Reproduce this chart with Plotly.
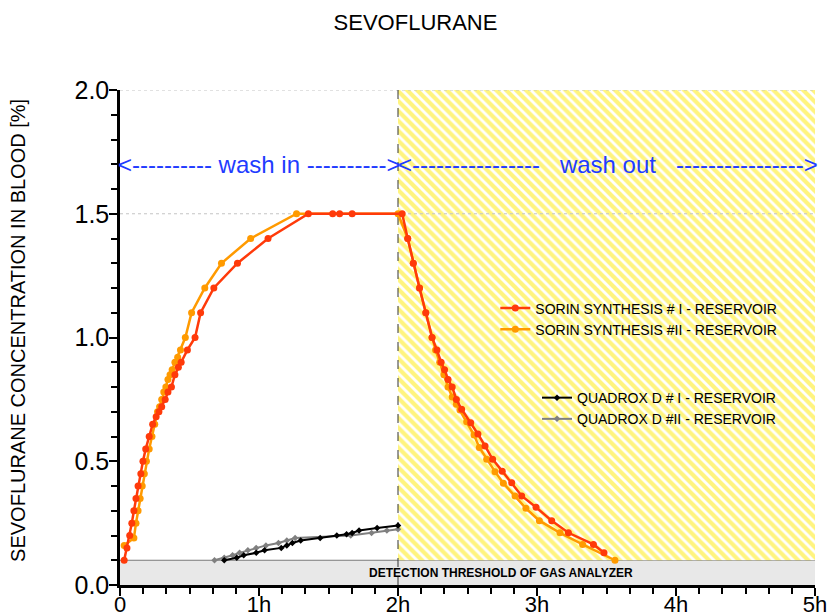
import plotly.graph_objects as go

# ---- measured blood concentration (time in hours, sevoflurane in %) ----
sorin1_t = [0.03, 0.05, 0.07, 0.085, 0.10, 0.115, 0.13, 0.15, 0.165, 0.185,
            0.21, 0.235, 0.26, 0.28, 0.30, 0.325, 0.345, 0.37, 0.395, 0.42,
            0.44, 0.485, 0.54, 0.58, 0.675, 0.845, 1.065, 1.355, 1.53, 1.58,
            1.67,
            2.03, 2.07, 2.11, 2.155, 2.2, 2.245, 2.28, 2.31, 2.335, 2.36,
            2.39, 2.42, 2.458, 2.523, 2.575, 2.626, 2.681, 2.75, 2.818, 2.89,
            2.993, 3.106, 3.226, 3.406, 3.482]
sorin1_c = [0.10, 0.15, 0.20, 0.25, 0.30, 0.35, 0.40, 0.45, 0.50, 0.55,
            0.60, 0.65, 0.68, 0.70, 0.72, 0.75, 0.78, 0.80, 0.85, 0.88,
            0.90, 0.95, 1.00, 1.10, 1.20, 1.30, 1.40, 1.50, 1.50, 1.50,
            1.50,
            1.50, 1.40, 1.30, 1.20, 1.10, 1.00, 0.95, 0.90, 0.87, 0.83,
            0.80, 0.75, 0.71, 0.656, 0.61, 0.562, 0.508, 0.46, 0.413, 0.36,
            0.314, 0.26, 0.211, 0.164, 0.13]

sorin2_t = [0.03, 0.10, 0.115, 0.13, 0.145, 0.16, 0.175, 0.19, 0.21, 0.23,
            0.25, 0.27, 0.285, 0.30, 0.315, 0.33, 0.345, 0.36, 0.375, 0.395,
            0.415, 0.435, 0.47, 0.515, 0.61, 0.73, 0.94, 1.27,
            2.0, 2.07, 2.11, 2.155, 2.2, 2.245, 2.27, 2.30, 2.33, 2.36,
            2.39, 2.42, 2.446, 2.494, 2.547, 2.585, 2.638, 2.698, 2.758, 2.842,
            2.92, 3.017, 3.165, 3.328, 3.561]
sorin2_c = [0.16, 0.19, 0.25, 0.30, 0.35, 0.40, 0.45, 0.50, 0.55, 0.60,
            0.65, 0.70, 0.72, 0.75, 0.78, 0.80, 0.83, 0.85, 0.87, 0.90,
            0.92, 0.95, 1.00, 1.10, 1.20, 1.30, 1.40, 1.50,
            1.50, 1.40, 1.30, 1.20, 1.10, 1.00, 0.95, 0.90, 0.85, 0.80,
            0.76, 0.73, 0.707, 0.66, 0.606, 0.556, 0.508, 0.458, 0.411, 0.36,
            0.31, 0.26, 0.211, 0.164, 0.10]

quadrox1_t = [0.75, 0.84, 0.89, 0.98, 1.04, 1.16, 1.20, 1.24, 1.30, 1.44,
              1.56, 1.63, 1.67, 1.72, 1.85, 2.0]
quadrox1_c = [0.10, 0.11, 0.12, 0.13, 0.14, 0.15, 0.16, 0.17, 0.18, 0.19,
              0.20, 0.205, 0.21, 0.22, 0.23, 0.24]

quadrox2_t = [0.68, 0.75, 0.81, 0.86, 0.92, 0.98, 1.05, 1.14, 1.20, 1.26,
              1.66, 1.81, 1.92, 2.0]
quadrox2_c = [0.10, 0.11, 0.12, 0.13, 0.14, 0.15, 0.16, 0.17, 0.18, 0.19,
              0.20, 0.21, 0.22, 0.225]

x_tick_vals = [0, 1, 2, 3, 4, 5]
x_tick_text = ["0", "1h", "2h", "3h", "4h", "5h"]

# ---- chart frame ----
X_MAX = 5
Y_MAX = 2.0
THRESHOLD = 0.1
WASHOUT_START = 2
GUIDE_LEVELS = [1.5, 2.0]

FONT = "Liberation Sans, Arial, sans-serif"
BLUE = "#1f3cff"

fig = go.Figure()

# hatched wash-out phase (above the analyzer threshold)
fig.add_trace(go.Scatter(
    x=[WASHOUT_START, X_MAX, X_MAX, WASHOUT_START, WASHOUT_START],
    y=[THRESHOLD, THRESHOLD, Y_MAX, Y_MAX, THRESHOLD],
    mode="none", fill="toself", fillcolor="white",
    fillpattern=dict(shape="\\", fgcolor="#FFEA00", bgcolor="white",
                     size=7, solidity=0.6),
    showlegend=False, hoverinfo="skip"))

# dotted guide lines
for level in GUIDE_LEVELS:
    fig.add_trace(go.Scatter(
        x=[0, X_MAX], y=[level, level], mode="lines",
        line=dict(color="#c4c4c4", width=1, dash="dot"),
        showlegend=False, hoverinfo="skip"))

# phase boundary
fig.add_trace(go.Scatter(
    x=[WASHOUT_START, WASHOUT_START], y=[0, Y_MAX], mode="lines",
    line=dict(color="#333333", width=1, dash="dash"),
    showlegend=False, hoverinfo="skip"))

fig.add_trace(go.Scatter(
    x=sorin2_t, y=sorin2_c, mode="lines+markers",
    name="SORIN SYNTHESIS #II - RESERVOIR",
    line=dict(color="#FF9A00", width=2.5),
    marker=dict(symbol="circle", size=7, color="#FF9A00"),
    legend="legend", legendrank=2))
fig.add_trace(go.Scatter(
    x=sorin1_t, y=sorin1_c, mode="lines+markers",
    name="SORIN SYNTHESIS # I - RESERVOIR",
    line=dict(color="#FF3A0A", width=2.5),
    marker=dict(symbol="circle", size=7, color="#FF3A0A"),
    legend="legend", legendrank=1))
fig.add_trace(go.Scatter(
    x=quadrox2_t, y=quadrox2_c, mode="lines+markers",
    name="QUADROX D #II - RESERVOIR",
    line=dict(color="#808080", width=2),
    marker=dict(symbol="diamond", size=5, color="#808080"),
    legend="legend2", legendrank=2))
fig.add_trace(go.Scatter(
    x=quadrox1_t, y=quadrox1_c, mode="lines+markers",
    name="QUADROX D # I - RESERVOIR",
    line=dict(color="black", width=2),
    marker=dict(symbol="diamond", size=5, color="black"),
    legend="legend2", legendrank=1))

legend_style = dict(xanchor="left", yanchor="top", bgcolor="rgba(0,0,0,0)",
                    font=dict(family=FONT, size=14, color="black"),
                    itemwidth=30, tracegroupgap=0, traceorder="normal")

fig.update_layout(
    width=831, height=616,
    margin=dict(l=120, r=16, t=90, b=31, autoexpand=False),
    paper_bgcolor="white", plot_bgcolor="white",
    font=dict(family=FONT, color="black"),
    title=dict(text="SEVOFLURANE", x=0.5, xanchor="center",
               y=1 - 22 / 616, yanchor="middle",
               font=dict(family=FONT, size=22, color="black")),
    legend=dict(x=0.54, y=0.591, **legend_style),
    legend2=dict(x=0.60, y=0.41, **legend_style),
    shapes=[
        dict(type="rect", xref="x", yref="y", x0=0, x1=X_MAX, y0=0, y1=THRESHOLD,
             fillcolor="#e8e8e8", line=dict(width=0), layer="below"),
        dict(type="line", xref="x", yref="y", x0=0, x1=X_MAX,
             y0=THRESHOLD, y1=THRESHOLD,
             line=dict(color="#7a7a7a", width=1), layer="below"),
    ],
    annotations=[
        dict(x=1.0, y=1.7, xref="x", yref="y", showarrow=False,
             text="&lt;----------\u00a0wash in\u00a0----------&gt;",
             font=dict(family=FONT, size=24, color=BLUE)),
        dict(x=3.514, y=1.7, xref="x", yref="y", showarrow=False,
             text="&lt;----------------\u00a0\u00a0\u00a0wash out\u00a0\u00a0\u00a0----------------&gt;",
             font=dict(family=FONT, size=24, color=BLUE)),
        dict(x=2.74, y=0.05, xref="x", yref="y", showarrow=False,
             text="<b>DETECTION THRESHOLD OF GAS ANALYZER</b>",
             font=dict(family=FONT, size=12, color="black")),
        dict(x=-0.147, y=0.515, xref="paper", yref="paper", showarrow=False,
             textangle=-90, xanchor="center", yanchor="middle",
             text="SEVOFLURANE CONCENTRATION IN BLOOD [%]",
             font=dict(family=FONT, size=20, color="black")),
    ],
)

fig.update_xaxes(
    range=[0, X_MAX], showgrid=False, zeroline=False,
    showline=True, linecolor="black", linewidth=2.5,
    tickmode="array", tickvals=x_tick_vals, ticktext=x_tick_text,
    ticks="outside", ticklen=8, tickwidth=2, tickcolor="black",
    ticklabelstandoff=-10,
    tickfont=dict(family=FONT, size=22, color="black"),
    minor=dict(dtick=1 / 6, tick0=0, ticks="outside", ticklen=6,
               tickwidth=2, tickcolor="black", showgrid=False),
    automargin=False)
fig.update_yaxes(
    range=[0, Y_MAX], showgrid=False, zeroline=False,
    showline=True, linecolor="black", linewidth=2.5,
    dtick=0.5, tick0=0, tickformat=".1f",
    ticks="outside", ticklen=8, tickwidth=2, tickcolor="black",
    ticklabelstandoff=-5,
    tickfont=dict(family=FONT, size=25, color="black"),
    minor=dict(dtick=0.1, tick0=0, ticks="outside", ticklen=6,
               tickwidth=2, tickcolor="black", showgrid=False),
    automargin=False)

fig.write_html("out.html")
